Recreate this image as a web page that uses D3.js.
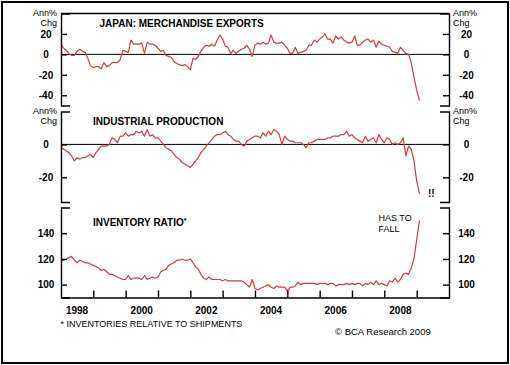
<!DOCTYPE html>
<html>
<head>
<meta charset="utf-8">
<script src="https://cdn.jsdelivr.net/npm/d3@7"></script>
<style>
body{margin:0;background:#fff;}
svg{display:block;font-family:Arial,"Liberation Sans",sans-serif;}
</style>
</head>
<body>
<svg width="510" height="365"></svg>
<script>
// monthly readings, Jan 1998 onward
var exportsChg = [10,6,4,1,-1,-1,3,5,3,2,
    -4,-11,-13,-12,-12,-14,-8,-12,-11,-8,
    -8,-8,-5,4,3,2,14,10,10,10,
    11,1,12,10,10,9,6,3,4,-1,
    -2,-3,-7,-9,-10,-11,-10,-12,-15,-4,
    -5,-2,3,7,9,8,10,8,14,19,
    15,8,7,1,4,1,3,5,6,9,
    5,-2,9,11,10,12,10,11,19,12,
    11,11,12,9,6,1,1,7,1,2,
    3,4,9,9,14,12,15,17,20,15,
    15,11,18,15,17,14,12,11,12,18,
    9,9,12,14,15,12,14,7,13,10,
    9,8,7,3,2,1,7,4,1,0,
    -8,-22,-35,-45];
var prodChg = [-2,-3,-4,-5,-7,-10,-8,-9,-8,-8,
    -7,-6,-8,-5,-3,-1,-1,-1,0,4,
    3,1,5,5,7,5,6,6,8,7,
    8,5,9,5,6,4,4,2,0,-2,
    -3,-4,-6,-8,-9,-11,-12,-13,-14,-12,
    -10,-8,-5,-3,-1,1,3,5,6,6,
    7,8,6,5,3,2,2,0,-1,2,
    3,4,5,5,4,7,5,8,6,9,
    8,6,0,5,3,2,2,1,1,1,
    0,-2,1,1,2,3,3,3,3,4,
    4,5,5,5,6,6,8,5,6,4,
    3,2,1,5,2,3,4,1,6,3,
    1,4,3,0,1,0,1,4,-7,-1,
    -3,-10,-22,-30];
var invRatio = [119,119,120,121,122,119,117,119,118,117,
    117,116,115,114,113,111,112,110,108,108,
    107,106,105,104,104,107,104,105,105,105,
    104,107,104,105,106,105,106,110,111,112,
    115,116,117,119,119,120,119,119,120,117,
    114,112,108,105,104,106,104,104,104,104,
    103,104,103,103,103,103,103,103,102,100,
    98,104,97,96,97,98,99,100,98,97,
    99,98,98,98,95,98,98,99,102,100,
    101,101,101,101,101,100,101,101,101,100,
    101,101,99,100,100,100,101,100,101,100,
    101,101,99,101,100,102,100,103,100,101,
    100,99,103,102,105,102,104,108,109,108,
    113,120,135,150];

var exportTicks = [-40, -20, 0, 20];
var prodTicks = [-20, 0];
var invTicks = [100, 120, 140];
var yearLabels = [1998, 2000, 2002, 2004, 2006, 2008];
var yearTicks = [1999, 2000, 2001, 2002, 2003, 2004, 2005, 2006, 2007, 2008, 2009];

var svg = d3.select("svg");
var left = 61, right = 449;
var lineColor = "#d23c3c";

var x = d3.scaleTime()
    .domain([new Date(1998, 0, 1), new Date(2010, 0, 1)])
    .range([left, right]);

svg.append("rect")
    .attr("x", 2).attr("y", 2)
    .attr("width", 506).attr("height", 361)
    .attr("fill", "none").attr("stroke", "#000").attr("stroke-width", 2);

function panel(data, domain, top, bottom, ticks, title, titleX, titleY, units){
    var y = d3.scaleLinear().domain(domain).range([bottom, top]);

    if(domain[0] < 0 && domain[1] > 0){
        svg.append("line")
            .attr("x1", left).attr("x2", right)
            .attr("y1", y(0)).attr("y2", y(0))
            .attr("stroke", "#000").attr("stroke-width", 1);
    }

    var line = d3.line()
        .x(function(d, i){ return x(new Date(1998, i, 1)); })
        .y(function(d){ return y(d); });

    svg.append("path")
        .datum(data)
        .attr("d", line)
        .attr("fill", "none")
        .attr("stroke", lineColor)
        .attr("stroke-width", 1.2)
        .attr("stroke-linejoin", "round");

    var gl = svg.append("g")
        .attr("transform", "translate(" + left + ",0)")
        .call(d3.axisLeft(y).tickValues(ticks).tickSizeInner(-6).tickSizeOuter(-9)
            .tickFormat(function(d){ return String(d); }));
    var gr = svg.append("g")
        .attr("transform", "translate(" + right + ",0)")
        .call(d3.axisRight(y).tickValues(ticks).tickSizeInner(-6).tickSizeOuter(-9)
            .tickFormat(function(d){ return String(d); }));

    [gl, gr].forEach(function(g){
        g.attr("font-family", null).attr("font-size", null);
        g.select(".domain").attr("stroke", "#000").attr("stroke-width", 1.4);
        g.selectAll(".tick line").attr("stroke", "#000").attr("stroke-width", 1.4);
        g.selectAll(".tick text")
            .attr("fill", "#000")
            .style("font-size", "10px")
            .style("font-weight", "bold")
            .attr("text-anchor", "middle");
    });
    gl.selectAll(".tick text").attr("x", 46 - left);
    gr.selectAll(".tick text").attr("x", 466.5 - right);

    if(units){
        [[57, "end"], [453, "start"]].forEach(function(p){
            svg.append("text").attr("x", p[0]).attr("y", top + 2.5)
                .attr("text-anchor", p[1]).style("font-size", "9px").text("Ann%");
            svg.append("text").attr("x", p[0]).attr("y", top + 12.8)
                .attr("text-anchor", p[1]).style("font-size", "9px").text("Chg");
        });
    }

    var t = svg.append("text")
        .attr("x", titleX).attr("y", titleY)
        .style("font-size", "10px").style("font-weight", "bold")
        .text(title);
    return {y: y, title: t};
}

var p1 = panel(exportsChg, [-50, 40], 13.5, 105.5, exportTicks,
    "JAPAN: MERCHANDISE EXPORTS", 99.5, 26.5, true);
svg.append("line")
    .attr("x1", left).attr("x2", right)
    .attr("y1", 13.5).attr("y2", 13.5)
    .attr("stroke", "#000").attr("stroke-width", 1.4);

var p2 = panel(prodChg, [-35, 20], 111.5, 202, prodTicks,
    "INDUSTRIAL PRODUCTION", 93, 125, true);

var p3 = panel(invRatio, [90, 160], 207.5, 297.5, invTicks,
    "INVENTORY RATIO", 93, 225.5, false);
p3.title.append("tspan").attr("dy", -3).style("font-size", "7px").text("*");

// x axis along the bottom panel
var gx = svg.append("g")
    .attr("transform", "translate(0,297.5)")
    .call(d3.axisBottom(x)
        .tickValues(yearTicks.map(function(yr){ return new Date(yr, 0, 1); }))
        .tickSizeInner(-7).tickSizeOuter(0).tickFormat(""));
gx.select(".domain").attr("stroke", "#000").attr("stroke-width", 1.4);
gx.selectAll(".tick line").attr("stroke", "#000").attr("stroke-width", 1.4);

svg.selectAll(".year")
    .data(yearLabels)
    .enter().append("text")
    .attr("class", "year")
    .attr("x", function(d){ return x(new Date(d, 6, 1)); })
    .attr("y", 313.5)
    .attr("text-anchor", "middle")
    .style("font-size", "10px").style("font-weight", "bold")
    .text(function(d){ return d; });

svg.append("text").attr("x", 428).attr("y", 197)
    .style("font-size", "10px").style("font-weight", "bold").text("!!");

svg.append("text").attr("x", 378.5).attr("y", 220.5)
    .style("font-size", "9px").text("HAS TO");
svg.append("text").attr("x", 378.5).attr("y", 231.5)
    .style("font-size", "9px").text("FALL");

svg.append("text").attr("x", 60.5).attr("y", 327)
    .style("font-size", "9px").text("* INVENTORIES RELATIVE TO SHIPMENTS");
svg.append("text").attr("x", 335).attr("y", 335)
    .style("font-size", "9.5px").text("\u00A9 BCA Research 2009");
</script>
</body>
</html>
